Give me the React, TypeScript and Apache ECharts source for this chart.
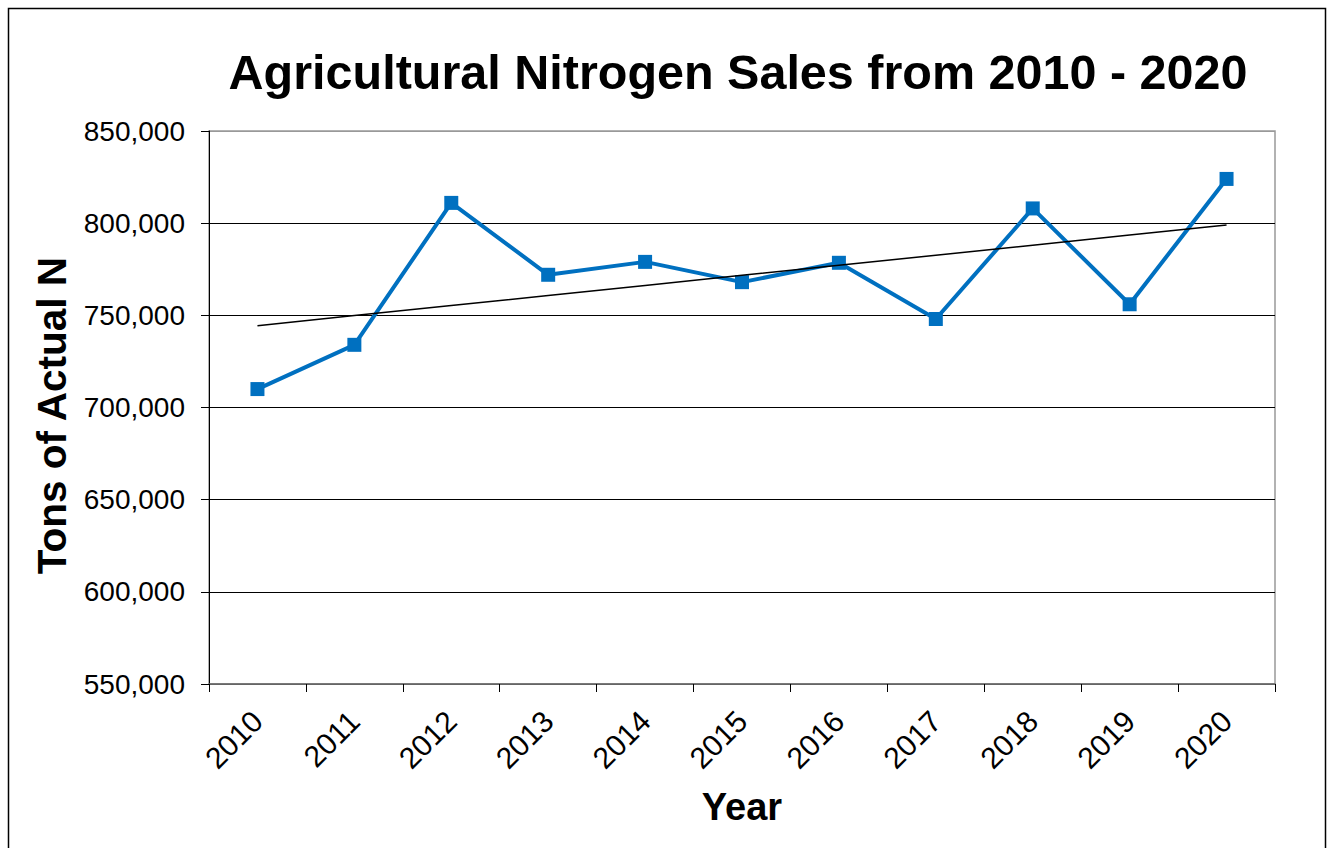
import React, { useEffect, useRef } from "react";
import * as echarts from "echarts";

const years = ["2010", "2011", "2012", "2013", "2014", "2015", "2016", "2017", "2018", "2019", "2020"];
const nitrogenTons = [710000, 734000, 811000, 772000, 779000, 768000, 778500, 748000, 808000, 756000, 824000];
const yMin = 550000;
const yMax = 850000;
const yStep = 50000;

const chartTitle = "Agricultural Nitrogen Sales from 2010 - 2020";
const yName = "Tons of Actual N";
const xName = "Year";

// least-squares linear trend through the series
function linearTrend(values: number[]): number[] {
  const n = values.length;
  const mx = (n - 1) / 2;
  const my = values.reduce((a, b) => a + b, 0) / n;
  let sxy = 0;
  let sxx = 0;
  values.forEach((v, i) => {
    sxy += (i - mx) * (v - my);
    sxx += (i - mx) * (i - mx);
  });
  const slope = sxy / sxx;
  return values.map((_, i) => my + slope * (i - mx));
}

const FONT = "'Liberation Sans', Arial, Helvetica, sans-serif";

export default function App() {
  const ref = useRef<HTMLDivElement>(null);
  useEffect(() => {
    if (!ref.current) return;
    const chart = echarts.init(ref.current, null, { renderer: "svg" });
    const trend = linearTrend(nitrogenTons);
    chart.setOption({
      animation: false,
      backgroundColor: "#fff",
      textStyle: { fontFamily: FONT },
      title: {
        text: chartTitle,
        left: 733,
        textAlign: "center",
        top: 42,
        textStyle: { fontFamily: FONT, fontSize: 48.5, fontWeight: "bold", color: "#000" },
      },
      graphic: [
        {
          type: "rect",
          left: 6,
          top: 6,
          shape: { width: 1317, height: 870 },
          style: { fill: "none", stroke: "#000", lineWidth: 1.5 },
          silent: true,
          z: -1,
        },
      ],
      grid: {
        left: 209,
        right: 55,
        top: 131,
        bottom: 164,
        show: true,
        borderColor: "#999",
        borderWidth: 1.5,
        containLabel: false,
      },
      xAxis: {
        type: "category",
        data: years,
        boundaryGap: true,
        name: xName,
        nameLocation: "middle",
        nameGap: 104,
        nameTextStyle: { fontFamily: FONT, fontSize: 38, fontWeight: "bold", color: "#000" },
        axisLine: { lineStyle: { color: "#666", width: 1.5 } },
        axisTick: { show: true, inside: false, length: 8, alignWithLabel: false, lineStyle: { color: "#000", width: 1 } },
        axisLabel: {
          rotate: 45,
          margin: 32,
          fontSize: 30,
          fontFamily: FONT,
          color: "#000",
          interval: 0,
        },
        splitLine: { show: false },
      },
      yAxis: {
        type: "value",
        min: yMin,
        max: yMax,
        interval: yStep,
        name: yName,
        nameLocation: "middle",
        nameRotate: 90,
        nameGap: 136,
        nameTextStyle: {
          fontFamily: FONT,
          fontSize: 40.5,
          fontWeight: "bold",
          color: "#000",
          padding: [0, 16, 0, 0],
        },
        axisLine: { show: true, lineStyle: { color: "#000", width: 1 } },
        axisTick: { show: true, inside: false, length: 8, lineStyle: { color: "#000", width: 1 } },
        axisLabel: {
          margin: 24,
          fontSize: 28,
          fontFamily: FONT,
          color: "#000",
          formatter: (v: number) => v.toLocaleString("en-US"),
        },
        splitLine: {
          show: true,
          lineStyle: { color: ["#666", "#000", "#000", "#000", "#000", "#000", "#999"], width: 1 },
        },
      },
      series: [
        {
          name: "Nitrogen",
          type: "line",
          data: nitrogenTons,
          symbol: "rect",
          symbolSize: 14,
          lineStyle: { color: "#0070C0", width: 4 },
          itemStyle: { color: "#0070C0" },
          z: 3,
        },
        {
          name: "Trend",
          type: "line",
          data: trend,
          symbol: "none",
          lineStyle: { color: "#000", width: 1.5 },
          z: 4,
        },
      ],
    });
    return () => chart.dispose();
  }, []);
  return (
    <div
      ref={ref}
      style={{ position: "fixed", left: 0, top: 0, width: 1330, height: 848 }}
    />
  );
}
